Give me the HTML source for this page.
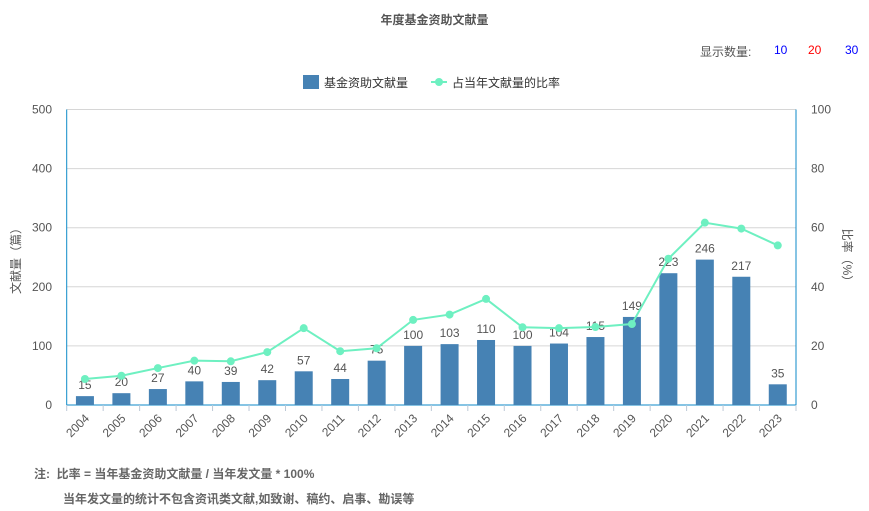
<!DOCTYPE html>
<html><head><meta charset="utf-8">
<style>
body{margin:0;background:#fff;font-family:"Liberation Sans","Noto Sans CJK SC",sans-serif;}
#wrap{position:relative;width:869px;height:511px;overflow:hidden;}
.t{position:absolute;white-space:nowrap;color:#555;}
</style></head>
<body>
<div id="wrap">
<div class="t" style="left:0;width:869px;text-align:center;top:11px;font-size:12px;font-weight:bold;color:#555;">年度基金资助文献量</div>
<div class="t" style="left:700px;top:43px;font-size:12px;">显示数量:</div>
<div class="t" style="left:774px;top:43px;font-size:12px;color:#00f;cursor:pointer;">10</div>
<div class="t" style="left:808px;top:43px;font-size:12px;color:#f00;cursor:pointer;">20</div>
<div class="t" style="left:845px;top:43px;font-size:12px;color:#00f;cursor:pointer;">30</div>
<div class="t" style="left:34px;top:465px;font-size:12px;font-weight:bold;color:#666;">注:&nbsp;&nbsp;比率 = 当年基金资助文献量 / 当年发文量 * 100%</div>
<div class="t" style="left:63px;top:490px;font-size:12px;font-weight:bold;color:#666;">当年发文量的统计不包含资讯类文献,如致谢、稿约、启事、勘误等</div>
<svg id="chart" width="869" height="511" style="position:absolute;left:0;top:0"></svg>
</div>
<script>
const categories=["2004","2005","2006","2007","2008","2009","2010","2011","2012","2013","2014","2015","2016","2017","2018","2019","2020","2021","2022","2023"];
const barValues=[15,20,27,40,39,42,57,44,75,100,103,110,100,104,115,149,223,246,217,35];
const ratioValues=[8.8,9.9,12.5,15,14.8,17.9,26,18.2,19.2,28.8,30.6,35.9,26.3,26,26.4,27.4,49.5,61.7,59.7,54];
const leftTicks=[0,100,200,300,400,500];
const rightTicks=[0,20,40,60,80,100];

const NS="http://www.w3.org/2000/svg";
const svg=document.getElementById('chart');
const X0=66.7,X1=796,Y0=405,Y1=109.5;
const band=(X1-X0)/categories.length;
const yL=v=>Y0-(v/500)*(Y0-Y1);
const yR=v=>Y0-(v/100)*(Y0-Y1);
const xC=i=>X0+band*(i+0.5);
function mk(tag,attrs,parent){const e=document.createElementNS(NS,tag);for(const k in attrs)e.setAttribute(k,attrs[k]);(parent||svg).appendChild(e);return e;}

// grid + left ticks
leftTicks.forEach(v=>{
  const g=mk('line',{x1:X0,x2:X1,y1:yL(v),y2:yL(v),stroke:'#d6d6d6','stroke-width':1});
  
  
  const t=mk('text',{x:52,y:yL(v)+4,'text-anchor':'end','font-size':12,fill:'#555'});
  t.textContent=v;
  
  
});
rightTicks.forEach(v=>{
  const t=mk('text',{x:811,y:yR(v)+4,'text-anchor':'start','font-size':12,fill:'#555'});
  t.textContent=v;
  
  
});
// axes
let a=mk('line',{x1:X0,x2:X0,y1:Y1,y2:Y0,stroke:'#0e8ac8','stroke-width':1});


a=mk('line',{x1:X1,x2:X1,y1:Y1,y2:Y0,stroke:'#0e8ac8','stroke-width':1});


a=mk('line',{x1:X0,x2:X1,y1:Y0,y2:Y0,stroke:'#0e8ac8','stroke-width':1});


for(let i=0;i<=categories.length;i++){
  const tk=mk('line',{x1:X0+band*i,x2:X0+band*i,y1:Y0,y2:Y0+6,stroke:'#bcc8d6','stroke-width':1});
  
  
}
// axis titles
let at=mk('text',{x:0,y:0,'font-size':12,fill:'#555','text-anchor':'middle',transform:'translate(20,258) rotate(-90)'});
at.textContent='文献量（篇）';


at=mk('text',{x:0,y:0,'font-size':12,fill:'#555','text-anchor':'middle',transform:'translate(843,258) rotate(90)'});
at.textContent='比率（%）';



// bars
categories.forEach((c,i)=>{
  const v=barValues[i];
  const r=mk('rect',{x:xC(i)-9,y:yL(v),width:18,height:Y0-yL(v),fill:'#4682b4'});
  
  
  const t=mk('text',{x:xC(i),y:yL(v)-7,'text-anchor':'middle','font-size':12,fill:'#555'});
  t.textContent=v;
  
  
  const xl=mk('text',{x:0,y:0,'text-anchor':'end','font-size':12,fill:'#555',transform:`translate(${xC(i)+5},${Y0+14}) rotate(-45)`});
  xl.textContent=c;
  
  
});
// line
const pts=ratioValues.map((v,i)=>xC(i)+','+yR(v)).join(' ');
const pl=mk('polyline',{points:pts,fill:'none',stroke:'#6ef0c1','stroke-width':2});


ratioValues.forEach((v,i)=>{
  const c=mk('circle',{cx:xC(i),cy:yR(v),r:4,fill:'#6ef0c1'});
  
  
});
// legend
const lg=mk('g',{});


let lr=mk('rect',{x:303,y:75,width:16,height:14,fill:'#4682b4'},lg);


let lt=mk('text',{x:324,y:87,'font-size':12,fill:'#333'},lg);
lt.textContent='基金资助文献量';


let ll=mk('line',{x1:431,x2:447,y1:82,y2:82,stroke:'#6ef0c1','stroke-width':2},lg);


let lc=mk('circle',{cx:439,cy:82,r:4,fill:'#6ef0c1'},lg);


lt=mk('text',{x:452,y:87,'font-size':12,fill:'#333'},lg);
lt.textContent='占当年文献量的比率';


</script>
</body></html>
